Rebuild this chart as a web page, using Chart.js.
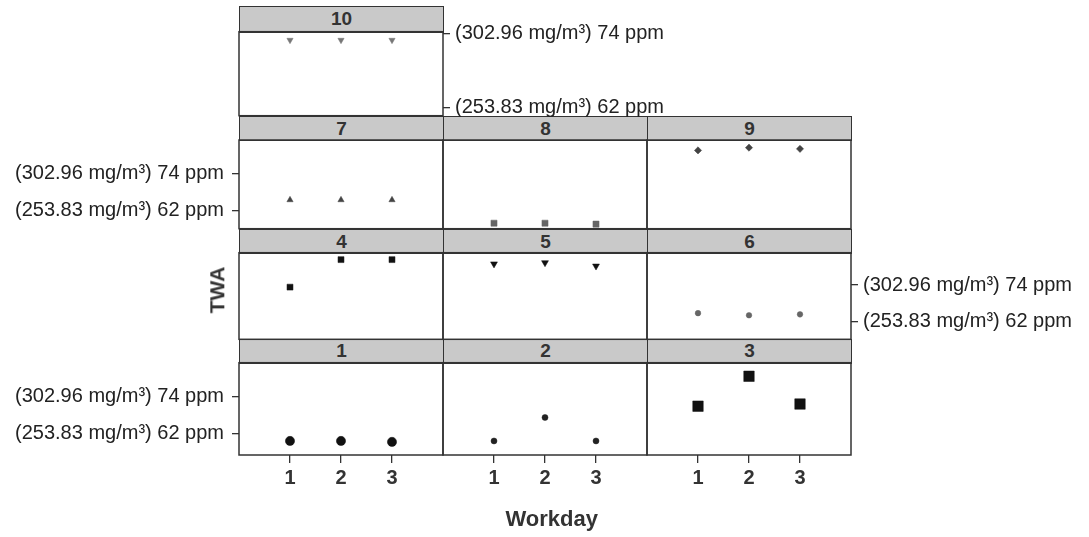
<!DOCTYPE html>
<html><head><meta charset="utf-8">
<script src="https://cdn.jsdelivr.net/npm/chart.js@4"></script>
<style>
html,body{margin:0;padding:0;background:#fff}
body{width:1089px;height:537px;overflow:hidden;position:relative;font-family:"Liberation Sans",Arial,sans-serif}
canvas{position:absolute;left:0;top:0}
.strip{position:absolute;background:#c9c9c9;border:1.5px solid #333;box-sizing:border-box;text-align:center;font-weight:bold;font-size:19px;color:#333}
.title{position:absolute;font-weight:bold;color:#333;white-space:nowrap}
</style></head><body>
<script>
// ---- data ----
const panelIds = ['1','2','3','4','5','6','7','8','9','10'];
const workdays = [1, 2, 3];
const twa1  = [59.5, 59.5, 59.2];
const twa2  = [59.5, 67.2, 59.5];
const twa3  = [70.9, 80.7, 71.6];
const twa4  = [73.3, 82.3, 82.3];
const twa5  = [80.9, 81.3, 80.2];
const twa6  = [64.8, 64.1, 64.4];
const twa7  = [65.5, 65.5, 65.5];
const twa8  = [57.9, 57.9, 57.6];
const twa9  = [81.7, 82.6, 82.2];
const twa10 = [72.9, 72.9, 72.9];
const yTickValues = [62, 74];
const yTickLabels = ['(253.83 mg/m\u00B3) 62 ppm', '(302.96 mg/m\u00B3) 74 ppm'];
const xTickLabels = ['1', '2', '3'];
const xTitle = 'Workday';
const yTitle = 'TWA';

// ---- layout ----
const W = 1089, H = 537;
const FONT = "'Liberation Sans', Arial, sans-serif";
const cols = [239, 443, 647, 851];
const rows = {
  r4: {h: 6,     t: 31.7,  b: 115.7, min: 60.64, max: 74.26},
  r3: {h: 115.7, t: 140,   b: 228.7, min: 56.1,  max: 85.1},
  r2: {h: 228.7, t: 252.7, b: 339.3, min: 56.25, max: 84.56},
  r1: {h: 339.3, t: 362.7, b: 455,   min: 54.9,  max: 85.15}
};
const panels = [
  {id: panelIds[0], vals: twa1,  col: 0, row: 'r1', yAxis: 'left',  xAxis: true,  style: 'circle',   r: 4.6, rot: 0,   color: '#111'},
  {id: panelIds[1], vals: twa2,  col: 1, row: 'r1', yAxis: null,    xAxis: true,  style: 'circle',   r: 3,   rot: 0,   color: '#222'},
  {id: panelIds[2], vals: twa3,  col: 2, row: 'r1', yAxis: null,    xAxis: true,  style: 'rect',     r: 7.4, rot: 0,   color: '#111'},
  {id: panelIds[3], vals: twa4,  col: 0, row: 'r2', yAxis: null,    xAxis: false, style: 'rect',     r: 4.2, rot: 0,   color: '#111'},
  {id: panelIds[4], vals: twa5,  col: 1, row: 'r2', yAxis: null,    xAxis: false, style: 'triangle', r: 4,   rot: 180, color: '#111'},
  {id: panelIds[5], vals: twa6,  col: 2, row: 'r2', yAxis: 'right', xAxis: false, style: 'circle',   r: 2.8, rot: 0,   color: '#666'},
  {id: panelIds[6], vals: twa7,  col: 0, row: 'r3', yAxis: 'left',  xAxis: false, style: 'triangle', r: 3.6, rot: 0,   color: '#444'},
  {id: panelIds[7], vals: twa8,  col: 1, row: 'r3', yAxis: null,    xAxis: false, style: 'rect',     r: 4.3, rot: 0,   color: '#666'},
  {id: panelIds[8], vals: twa9,  col: 2, row: 'r3', yAxis: null,    xAxis: false, style: 'rectRot',  r: 3.6, rot: 0,   color: '#444'},
  {id: panelIds[9], vals: twa10, col: 0, row: 'r4', yAxis: 'right', xAxis: false, style: 'triangle', r: 3.6, rot: 180, color: '#777'}
];

const framePlugin = {
  id: 'frame',
  beforeDatasetsDraw(chart) {
    const {ctx, chartArea: a} = chart;
    ctx.save();
    ctx.strokeStyle = '#333';
    ctx.lineWidth = 1.5;
    ctx.strokeRect(a.left, a.top, a.right - a.left, a.bottom - a.top);
    ctx.restore();
  }
};

const YAXW_LEFT = 239, YAXW_RIGHT = 232, XAXH = 40;

panels.forEach(p => {
  const R = rows[p.row];
  const left = cols[p.col], right = cols[p.col + 1];

  // strip
  const s = document.createElement('div');
  s.className = 'strip';
  s.style.left = left + 'px';
  s.style.top = R.h + 'px';
  s.style.width = (right - left + 1) + 'px';
  s.style.height = (R.t - R.h + 1) + 'px';
  s.style.lineHeight = (R.t - R.h - 1) + 'px';
  s.textContent = p.id;
  document.body.appendChild(s);

  const cv = document.createElement('canvas');
  cv.width = W; cv.height = H;
  cv.style.width = W + 'px'; cv.style.height = H + 'px';
  document.body.appendChild(cv);

  const pad = {
    left: p.yAxis === 'left' ? left - YAXW_LEFT : left,
    right: p.yAxis === 'right' ? W - right - YAXW_RIGHT : W - right,
    top: R.t,
    bottom: p.xAxis ? H - R.b - XAXH : H - R.b
  };

  new Chart(cv, {
    type: 'scatter',
    data: {
      datasets: [{
        data: workdays.map((d, i) => ({x: d, y: p.vals[i]})),
        pointStyle: p.style,
        pointRadius: p.r,
        rotation: p.rot,
        backgroundColor: p.color,
        borderColor: p.color,
        borderWidth: 0.5
      }]
    },
    options: {
      responsive: false,
      animation: false,
      events: [],
      devicePixelRatio: 1,
      layout: {padding: pad},
      plugins: {legend: {display: false}, tooltip: {enabled: false}},
      scales: {
        x: {
          type: 'linear', min: 0, max: 4,
          display: p.xAxis,
          afterBuildTicks: sc => { sc.ticks = workdays.map(v => ({value: v})); },
          afterFit: sc => { sc.height = p.xAxis ? XAXH : 0; },
          grid: {display: true, drawOnChartArea: false, drawTicks: true, tickLength: 8, color: '#333', lineWidth: 1.3},
          border: {display: false},
          ticks: {
            font: {family: FONT, size: 20, weight: 'bold'}, color: '#333', padding: 3,
            maxRotation: 0, autoSkip: false,
            callback: v => xTickLabels[workdays.indexOf(v)]
          }
        },
        y: {
          type: 'linear', min: R.min, max: R.max,
          display: p.yAxis !== null,
          position: p.yAxis === 'right' ? 'right' : 'left',
          afterBuildTicks: sc => { sc.ticks = yTickValues.map(v => ({value: v})); },
          afterFit: sc => { sc.width = p.yAxis === 'right' ? YAXW_RIGHT : (p.yAxis === 'left' ? YAXW_LEFT : 0); },
          grid: {display: true, drawOnChartArea: false, drawTicks: true, tickLength: 7, color: '#333', lineWidth: 1.3},
          border: {display: false},
          ticks: {
            font: {family: FONT, size: 20}, color: '#222', padding: p.yAxis === 'right' ? 5 : 8,
            autoSkip: false,
            callback: v => yTickLabels[yTickValues.indexOf(v)]
          }
        }
      }
    },
    plugins: [framePlugin]
  });
});

// axis titles
const xt = document.createElement('div');
xt.className = 'title';
xt.style.fontSize = '22px';
xt.textContent = xTitle;
document.body.appendChild(xt);
xt.style.left = (552 - xt.offsetWidth / 2) + 'px';
xt.style.top = (519 - xt.offsetHeight / 2) + 'px';

const yt = document.createElement('div');
yt.className = 'title';
yt.style.fontSize = '21px';
yt.textContent = yTitle;
document.body.appendChild(yt);
yt.style.left = (217.5 - yt.offsetWidth / 2) + 'px';
yt.style.top = (290 - yt.offsetHeight / 2) + 'px';
yt.style.transform = 'rotate(-90deg)';
</script>
</body></html>
